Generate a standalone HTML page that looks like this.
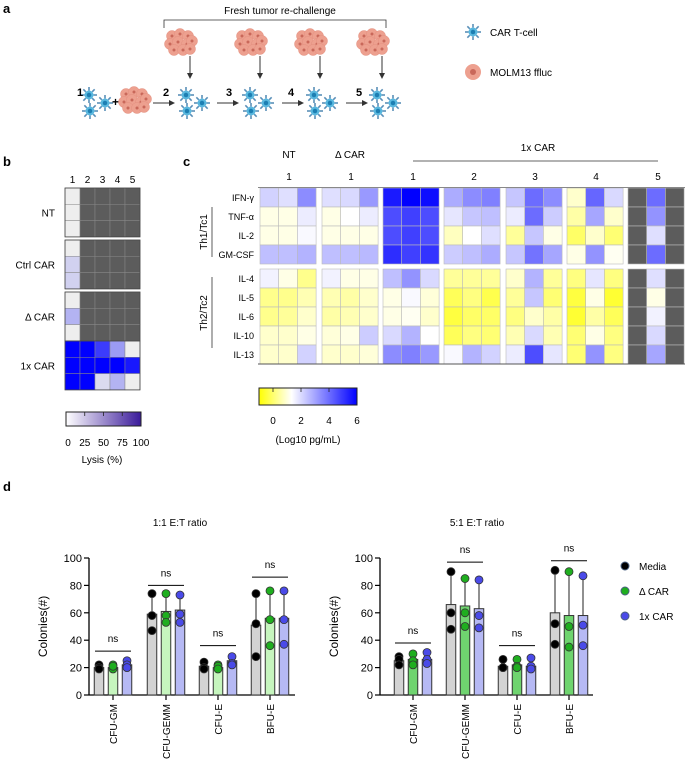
<!DOCTYPE html>
<html><head><meta charset="utf-8">
<style>
body{margin:0;background:#fff;}
svg{display:block;font-family:"Liberation Sans",Arial,sans-serif;}
</style></head>
<body>
<svg id="fig" width="685" height="768" viewBox="0 0 685 768" xmlns="http://www.w3.org/2000/svg">
<g id="panelA">
  <text x="3" y="13" font-size="13" font-weight="bold">a</text>
  <text x="280" y="14" font-size="10" text-anchor="middle">Fresh tumor re-challenge</text>
  <path d="M164,28 V20 H386 V28" fill="none" stroke="#333" stroke-width="0.8"/>
  <text x="490" y="36" font-size="10">CAR T-cell</text>
  <text x="490" y="76" font-size="10">MOLM13 ffluc</text>
</g>
<g id="panelB">
  <text x="3" y="166" font-size="13" font-weight="bold">b</text>
</g>
<g id="panelC">
  <text x="183" y="166" font-size="13" font-weight="bold">c</text>
</g>
<g id="panelD">
  <text x="3" y="491" font-size="13" font-weight="bold">d</text>
</g>
</svg>
<script>
// ---------- Panel b data ----------
const bCols = ["1","2","3","4","5"];
const bGroups = ["NT","Ctrl CAR","\u0394 CAR","1x CAR"];
const bNT = [[0,null,null,null,null],[0,null,null,null,null],[0,null,null,null,null]];
const bCtrl = [[0,null,null,null,null],[12,null,null,null,null],[12,null,null,null,null]];
const bDelta = [[0,null,null,null,null],[25,null,null,null,null],[0,null,null,null,null]];
const b1x = [[100,100,75,35,0],[100,100,100,100,90],[100,100,8,25,0]];
const bTicks = [0,25,50,75,100];

// ---------- Panel c data ----------
const cRows = ["IFN-\u03b3","TNF-\u03b1","IL-2","GM-CSF","IL-4","IL-5","IL-6","IL-10","IL-13"];
const cNT = [[2.7,2.5,3.8],[1.8,1.8,2.3],[1.8,1.8,2.1],[3,3,3.2],[2.2,1.8,1.1],[1.1,1.1,1.4],[1.1,1.2,1.6],[1.6,1.6,1.8],[1.6,1.6,2.7]];
const cDelta = [[2.5,2.6,3.6],[1.8,2,2.3],[1.8,1.8,1.8],[3,3,3.1],[2.2,1.8,1.8],[1.4,1.3,1.6],[1.3,1.4,1.6],[1.7,1.8,2.8],[1.6,1.6,1.7]];
const c1x1 = [[5.6,6,5.8],[4.8,5,4.8],[4.8,5,4.8],[5.3,5,5.2],[3,3.7,2.6],[1.8,2.1,1.7],[1.8,1.9,1.6],[2.6,3.2,2],[3.8,4,3.6]];
const c1x2 = [[3.3,3.8,4],[2.4,2.9,3],[1.5,2,2.5],[2.8,3,3.3],[1.2,1.2,1.2],[0.7,1,0.6],[0.5,0.8,0.8],[0.7,1,0.9],[2.1,3.2,2.7]];
const c1x3 = [[2.9,4.3,3.8],[2.3,4.3,2.8],[1.2,2.9,1.8],[2.9,4.2,3.4],[1.6,3.2,1.2],[1.2,2.9,0.9],[1.0,1.6,1.3],[1.4,2.6,1.4],[2.3,4.8,2.4]];
const c1x4 = [[1.6,4.4,2.6],[1.3,3.4,1.6],[0.8,1.6,0.9],[1.8,3.7,1.9],[1.0,2.4,1.0],[0.5,1.8,0.4],[0.4,1.3,0.7],[0.9,1.8,1.0],[0.9,3.7,1.0]];
const c1x5 = [[null,4.3,null],[null,3.7,null],[null,2.5,null],[null,4.3,null],[null,2.5,null],[null,1.8,null],[null,2.2,null],[null,2.6,null],[null,3.4,null]];
const cTicks = [0,2,4,6];

// ---------- Panel d data ----------
const dCategories = ["CFU-GM","CFU-GEMM","CFU-E","BFU-E"];
const dSeries = ["Media","\u0394 CAR","1x CAR"];
const d1Means = [[20,20,22],[59,61,62],[21,20,25],[51,56,56]];
const d1Points = [[[22,20,19],[22,19,21],[25,22,20]],[[74,58,47],[74,58,53],[73,59,53]],[[24,20,19],[22,21,19],[28,23,22]],[[74,52,28],[76,55,36],[76,55,37]]];
const d1Sig = [32,80,36,86];
const d5Means = [[25,26,26],[66,65,63],[21,22,21],[60,58,58]];
const d5Points = [[[28,26,22],[30,25,22],[31,26,23]],[[90,60,48],[85,60,50],[84,58,49]],[[26,20,20],[26,21,20],[27,21,19]],[[91,52,37],[90,50,35],[87,51,36]]];
const d5Sig = [38,97,36,98];
const dTicks = [0,20,40,60,80,100];

const NS = "http://www.w3.org/2000/svg";
function mk(tag, attrs, parent){
  const e = document.createElementNS(NS, tag);
  for (const k in attrs) e.setAttribute(k, attrs[k]);
  parent.appendChild(e);
  return e;
}
function lerp(a,b,t){return Math.round(a+(b-a)*t);}
function mix(c1,c2,t){return `rgb(${lerp(c1[0],c2[0],t)},${lerp(c1[1],c2[1],t)},${lerp(c1[2],c2[2],t)})`;}

// ---------- Panel a drawing ----------
const A = document.getElementById("panelA");
function tcell(cx, cy, r, name){
  const g = mk("g", {}, A);
  
  
  for (let i=0;i<8;i++){
    const ang = i*Math.PI/4;
    mk("line",{x1:cx+Math.cos(ang)*r,y1:cy+Math.sin(ang)*r,x2:cx+Math.cos(ang)*(r+3.5),y2:cy+Math.sin(ang)*(r+3.5),stroke:"#5a8fb8","stroke-width":1.6},g);
  }
  mk("circle",{cx:cx,cy:cy,r:r,fill:"#59b8df"},g);
  mk("circle",{cx:cx,cy:cy,r:r*0.5,fill:"#1d7fb3"},g);
}
function tumor(cx, cy, name){
  const g = mk("g", {}, A);
  
  
  const offs = [[-8,-6],[0,-8],[8,-6],[-10,2],[-2,0],[7,2],[12,-1],[-6,8],[3,8],[10,7]];
  offs.forEach(o=>{
    mk("circle",{cx:cx+o[0],cy:cy+o[1],r:5.5,fill:"#eda08f",stroke:"#e49080","stroke-width":0.5},g);
    mk("circle",{cx:cx+o[0],cy:cy+o[1],r:1.5,fill:"#c9685a"},g);
  });
}
function cluster(cx, cy, name){
  tcell(cx-6, cy-6, 4.5, name+"-cell-1");
  tcell(cx+10, cy+2, 4.5, name+"-cell-2");
  tcell(cx-5, cy+10, 4.5, name+"-cell-3");
}
function arrowR(x1, x2, y, name){
  const g = mk("g",{},A);
  
  
  mk("line",{x1:x1,y1:y,x2:x2-4,y2:y,stroke:"#333","stroke-width":1},g);
  mk("path",{d:`M${x2},${y} L${x2-6},${y-3} L${x2-6},${y+3} Z`,fill:"#333"},g);
}
function arrowD(x, y1, y2, name){
  const g = mk("g",{},A);
  
  
  mk("line",{x1:x,y1:y1,x2:x,y2:y2-4,stroke:"#333","stroke-width":1},g);
  mk("path",{d:`M${x},${y2} L${x-3},${y2-6} L${x+3},${y2-6} Z`,fill:"#333"},g);
}
cluster(95, 101, "cluster-step1");
const one = mk("text",{x:77,y:96,"font-size":11,"font-weight":"bold"},A); one.textContent="1";


const plus = mk("text",{x:112,y:106,"font-size":12,"font-weight":"bold"},A); plus.textContent="+";


tumor(134, 100, "tumor-initial");
const stepX = [192, 256, 320, 383];
const labelX = [163, 226, 288, 356];
const arrowStart = [153, 217, 282, 346];
const tumorX = [180, 250, 310, 372];
for (let i=0;i<4;i++){
  arrowR(arrowStart[i], arrowStart[i]+22, 103, "arrow-step"+(i+2));
  const t = mk("text",{x:labelX[i],y:96,"font-size":11,"font-weight":"bold"},A); t.textContent=String(i+2);
  
  
  cluster(stepX[i], 101, "cluster-step"+(i+2));
  tumor(tumorX[i], 42, "tumor-rechallenge-"+(i+1));
  arrowD(tumorX[i]+10, 56, 79, "arrow-down-"+(i+1));
}
tcell(473, 32, 4.5, "legend-car-t-icon");
(function(){
  const g = mk("g",{},A);
  
  
  mk("circle",{cx:473,cy:72,r:8,fill:"#eda08f"},g);
  mk("circle",{cx:473,cy:72,r:3,fill:"#c9685a"},g);
})();

// ---------- Panel b drawing ----------
const B = document.getElementById("panelB");
const bX0 = 65, bCw = 15, bRh = 16.3;
const bGroupTop = [188, 240, 292, 341];
const bGroupData = [bNT, bCtrl, bDelta, b1x];
bCols.forEach((c,i)=>{
  const t = mk("text",{x:bX0+bCw*i+bCw/2,y:183,"font-size":10,"text-anchor":"middle"},B); t.textContent=c;
  
  
});
const grayC = [238,238,238], blueC = [0,0,255];
bGroupData.forEach((grp,gi)=>{
  const top = bGroupTop[gi];
  grp.forEach((row,ri)=>{
    row.forEach((v,ci)=>{
      const fill = v===null ? "#5c5c5c" : mix(grayC, blueC, v/100);
      const r = mk("rect",{x:bX0+ci*bCw,y:top+ri*bRh,width:bCw,height:bRh,fill:fill,stroke:"#888","stroke-width":0.5},B);
      
      
    });
  });
  mk("rect",{x:bX0,y:top,width:bCw*5,height:bRh*3,fill:"none",stroke:"#444","stroke-width":0.8},B);
  const t = mk("text",{x:55,y:top+bRh*1.5+4,"font-size":10,"text-anchor":"end"},B); t.textContent=bGroups[gi];
  
  
});
(function(){
  const defs = mk("defs",{},B);
  const lg = mk("linearGradient",{id:"gb",x1:0,x2:1,y1:0,y2:0},defs);
  mk("stop",{offset:"0",  "stop-color":"#ffffff"},lg);
  mk("stop",{offset:"1","stop-color":"#3a1a9a"},lg);
  const cb = mk("rect",{x:66,y:412,width:75,height:14,fill:"url(#gb)",stroke:"#222","stroke-width":1},B);
  
  
  bTicks.forEach((v,i)=>{
    const x = 66 + 75*v/100;
    mk("line",{x1:x,y1:412,x2:x,y2:416,stroke:"#222","stroke-width":0.8},B);
    const t = mk("text",{x:x+(i===0?2:0),y:446,"font-size":10,"text-anchor":"middle"},B); t.textContent=String(v);
    
    
  });
  const t = mk("text",{x:102,y:463,"font-size":10,"text-anchor":"middle"},B); t.textContent="Lysis (%)";
  
  
})();

// ---------- Panel c drawing ----------
const C = document.getElementById("panelC");
const cGroupX = [260, 322, 383, 444, 506, 567, 628];
const cGroupData = [cNT, cDelta, c1x1, c1x2, c1x3, c1x4, c1x5];
const cCw = 18.7, cRh = 19;
const cRowY = [188,207,226,245,269,288,307,326,345];
const yel=[255,255,0], wht=[255,255,255], blu=[0,0,255];
function cColor(v){
  if (v<=2) return mix(yel, wht, Math.max(0,v)/2);
  return mix(wht, blu, Math.min(1,(v-2)/4));
}
cGroupData.forEach((grp,gi)=>{
  grp.forEach((row,ri)=>{
    row.forEach((v,ci)=>{
      const fill = v===null ? "#5c5c5c" : cColor(v);
      const r = mk("rect",{x:cGroupX[gi]+ci*cCw,y:cRowY[ri],width:cCw,height:cRh,fill:fill,stroke:"#bbb","stroke-width":0.6},C);
      
      
    });
  });
});
mk("line",{x1:258,y1:187.5,x2:685,y2:187.5,stroke:"#888","stroke-width":1},C);
mk("line",{x1:258,y1:364,x2:685,y2:364,stroke:"#555","stroke-width":1},C);
cRows.forEach((r,i)=>{
  const t = mk("text",{x:254,y:cRowY[i]+13,"font-size":9,"text-anchor":"end"},C); t.textContent=r;
  
  
});
(function(){
  const g1 = mk("text",{x:0,y:0,"font-size":10,"text-anchor":"middle",transform:"translate(207,232) rotate(-90)"},C); g1.textContent="Th1/Tc1";
  
  
  mk("line",{x1:212,y1:207,x2:212,y2:257,stroke:"#333","stroke-width":0.8},C);
  const g2 = mk("text",{x:0,y:0,"font-size":10,"text-anchor":"middle",transform:"translate(207,313) rotate(-90)"},C); g2.textContent="Th2/Tc2";
  
  
  mk("line",{x1:212,y1:277,x2:212,y2:348,stroke:"#333","stroke-width":0.8},C);
  const heads = [["NT",289,158],["\u0394 CAR",350,158],["1x CAR",538,151]];
  heads.forEach(h=>{
    const t = mk("text",{x:h[1],y:h[2],"font-size":10,"text-anchor":"middle"},C); t.textContent=h[0];
    
    
  });
  mk("line",{x1:413,y1:161,x2:658,y2:161,stroke:"#333","stroke-width":0.8},C);
  const nums = [["1",289],["1",351],["1",413],["2",474],["3",535],["4",596],["5",658]];
  nums.forEach(n=>{
    const t = mk("text",{x:n[1],y:180,"font-size":10,"text-anchor":"middle"},C); t.textContent=n[0];
    
    
  });
  const defs = mk("defs",{},C);
  const lg = mk("linearGradient",{id:"gc",x1:0,x2:1,y1:0,y2:0},defs);
  mk("stop",{offset:"0","stop-color":"#ffff00"},lg);
  mk("stop",{offset:"0.333","stop-color":"#ffffff"},lg);
  mk("stop",{offset:"1","stop-color":"#0000ff"},lg);
  const cb = mk("rect",{x:259,y:388,width:98,height:17,fill:"url(#gc)",stroke:"#222","stroke-width":1},C);
  
  
  cTicks.forEach(v=>{
    const x = 273 + (357-273)*v/6;
    mk("line",{x1:x,y1:388,x2:x,y2:392,stroke:"#222","stroke-width":0.8},C);
    const t = mk("text",{x:x,y:424,"font-size":10,"text-anchor":"middle"},C); t.textContent=String(v);
    
    
  });
  const t = mk("text",{x:308,y:443,"font-size":10,"text-anchor":"middle"},C); t.textContent="(Log10 pg/mL)";
  
  
})();

// ---------- Panel d drawing ----------
const D = document.getElementById("panelD");
const dY0 = 695, dY100 = 558;
function yScale(v){ return dY0 - (dY0-dY100)*v/100; }
const dotCols = ["#000000","#1fae1f","#4a4ae8"];
function drawChart(axisX, endX, groupX, means, points, sig, barCols, title, titleX, chartName){
  const g = mk("g",{},D);
  
  
  const tt = mk("text",{x:titleX,y:526,"font-size":10,"text-anchor":"middle"},g); tt.textContent=title;
  
  
  mk("line",{x1:axisX,y1:yScale(100),x2:axisX,y2:dY0,stroke:"#000","stroke-width":1.3},g);
  dTicks.forEach(v=>{
    mk("line",{x1:axisX-5,y1:yScale(v),x2:axisX,y2:yScale(v),stroke:"#000","stroke-width":1.2},g);
    const t = mk("text",{x:axisX-7,y:yScale(v)+4,"font-size":11,"text-anchor":"end"},g); t.textContent=String(v);
    
    
  });
  const yt = mk("text",{x:0,y:0,"font-size":12,"text-anchor":"middle",transform:`translate(${axisX-42},${(yScale(0)+yScale(100))/2}) rotate(-90)`},g); yt.textContent="Colonies(#)";
  
  
  mk("line",{x1:axisX,y1:dY0,x2:endX,y2:dY0,stroke:"#000","stroke-width":1.3},g);
  dCategories.forEach((cat,ci)=>{
    const cx = groupX[ci];
    mk("line",{x1:cx,y1:dY0,x2:cx,y2:dY0+5,stroke:"#000","stroke-width":1.2},g);
    const xl = mk("text",{x:0,y:0,"font-size":10,"text-anchor":"end",transform:`translate(${cx+4},${dY0+9}) rotate(-90)`},g); xl.textContent=cat;
    
    
    for (let s=0;s<3;s++){
      const bx = cx + (s-1)*14;
      const m = means[ci][s];
      const pts = points[ci][s];
      const mx = Math.max(...pts);
      mk("line",{x1:bx,y1:yScale(m),x2:bx,y2:yScale(mx),stroke:"#222","stroke-width":1},g);
      mk("line",{x1:bx-3,y1:yScale(mx),x2:bx+3,y2:yScale(mx),stroke:"#222","stroke-width":1},g);
      const bar = mk("rect",{x:bx-4.75,y:yScale(m),width:9.5,height:dY0-yScale(m),fill:barCols[s],stroke:"#333","stroke-width":1},g);
      
      
      pts.forEach(p=>{
        const dot = mk("circle",{cx:bx,cy:yScale(p),r:4,fill:dotCols[s],stroke:"#333","stroke-width":0.8},g);
        
        
      });
    }
    mk("line",{x1:cx-18,y1:yScale(sig[ci]),x2:cx+18,y2:yScale(sig[ci]),stroke:"#000","stroke-width":1},g);
    const ns = mk("text",{x:cx,y:yScale(sig[ci])-9,"font-size":10,"text-anchor":"middle"},g); ns.textContent="ns";
    
    
  });
}
drawChart(89, 295, [113,166,218,270], d1Means, d1Points, d1Sig, ["#d3d3d3","#c6f5be","#b6b9f4"], "1:1 E:T ratio", 180, "chart-1to1");
drawChart(380, 593, [413,465,517,569], d5Means, d5Points, d5Sig, ["#d3d3d3","#6fd46f","#b6b9f4"], "5:1 E:T ratio", 477, "chart-5to1");
const legY = [566, 591, 616];
dSeries.forEach((s,i)=>{
  const c = mk("circle",{cx:625,cy:legY[i],r:4,fill:dotCols[i],stroke:"#4a6080","stroke-width":1},D);
  
  
  const t = mk("text",{x:639,y:legY[i]+4,"font-size":10},D); t.textContent=s;
  
  
});
</script>
</body></html>
